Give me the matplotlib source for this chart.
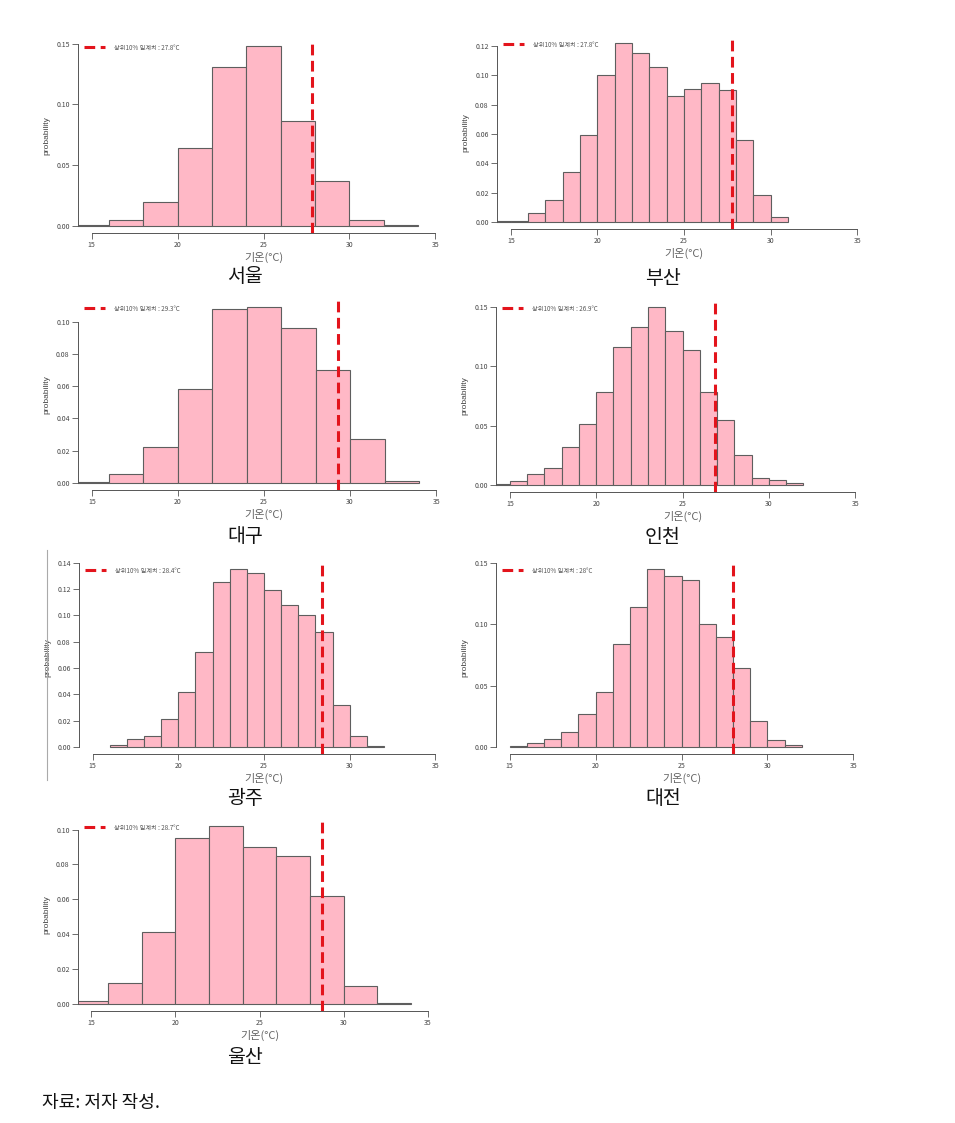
import matplotlib
matplotlib.use('Agg')
import matplotlib.pyplot as plt
from matplotlib.lines import Line2D
import numpy as np


plt.rcParams['font.family'] = ['Noto Sans CJK KR', 'DejaVu Sans']


# ============================================================================
# Data
# ============================================================================
cities = ['서울', '부산', '대구', '인천', '광주', '대전', '울산']

seoul_start, seoul_width = 14, 2
seoul_density = [0.001, 0.005, 0.020, 0.064, 0.131, 0.148, 0.086, 0.037, 0.005, 0.0005]
seoul_threshold = 27.8

busan_start, busan_width = 14, 1
busan_density = [0.0003, 0.0005, 0.006, 0.015, 0.034, 0.059, 0.100, 0.122, 0.115, 0.106,
                 0.086, 0.091, 0.095, 0.090, 0.056, 0.018, 0.0035]
busan_threshold = 27.8

daegu_start, daegu_width = 14, 2
daegu_density = [0.0003, 0.0055, 0.022, 0.058, 0.108, 0.109, 0.096, 0.070, 0.027, 0.0015]
daegu_threshold = 29.3

incheon_start, incheon_width = 14, 1
incheon_density = [0.001, 0.003, 0.009, 0.014, 0.032, 0.051, 0.078, 0.116, 0.133, 0.150,
                   0.130, 0.114, 0.078, 0.055, 0.025, 0.006, 0.004, 0.0015]
incheon_threshold = 26.9

gwangju_start, gwangju_width = 16, 1
gwangju_density = [0.0015, 0.006, 0.0085, 0.021, 0.042, 0.072, 0.125, 0.135, 0.132, 0.119,
                   0.108, 0.100, 0.087, 0.032, 0.0085, 0.001]
gwangju_threshold = 28.4

daejeon_start, daejeon_width = 15, 1
daejeon_density = [0.001, 0.0035, 0.0065, 0.012, 0.027, 0.045, 0.084, 0.114, 0.145, 0.139,
                   0.136, 0.100, 0.090, 0.064, 0.021, 0.006, 0.0015]
daejeon_threshold = 28

ulsan_start, ulsan_width = 14, 2
ulsan_density = [0.0015, 0.012, 0.041, 0.095, 0.102, 0.090, 0.085, 0.062, 0.0105, 0.0005]
ulsan_threshold = 28.7

seoul_yticks = [0.00, 0.05, 0.10, 0.15]
busan_yticks = [0.00, 0.02, 0.04, 0.06, 0.08, 0.10, 0.12]
daegu_yticks = [0.00, 0.02, 0.04, 0.06, 0.08, 0.10]
incheon_yticks = [0.00, 0.05, 0.10, 0.15]
gwangju_yticks = [0.00, 0.02, 0.04, 0.06, 0.08, 0.10, 0.12, 0.14]
daejeon_yticks = [0.00, 0.05, 0.10, 0.15]
ulsan_yticks = [0.00, 0.02, 0.04, 0.06, 0.08, 0.10]

x_ticks = [15, 20, 25, 30, 35]


# ============================================================================
# Layout (pixel boxes: left, top, right, bottom)
# ============================================================================
W, H = 955, 1123
panels = [
    (seoul_start, seoul_width, seoul_density, seoul_threshold, seoul_yticks, (78, 39, 449, 233), (245, 277)),
    (busan_start, busan_width, busan_density, busan_threshold, busan_yticks, (497, 36, 871, 229), (663, 278)),
    (daegu_start, daegu_width, daegu_density, daegu_threshold, daegu_yticks, (78, 300, 450, 490), (245, 537)),
    (incheon_start, incheon_width, incheon_density, incheon_threshold, incheon_yticks, (496, 300, 869, 492), (663, 537)),
    (gwangju_start, gwangju_width, gwangju_density, gwangju_threshold, gwangju_yticks, (79, 562, 449, 754), (245, 798)),
    (daejeon_start, daejeon_width, daejeon_density, daejeon_threshold, daejeon_yticks, (496, 562, 867, 754), (663, 798)),
    (ulsan_start, ulsan_width, ulsan_density, ulsan_threshold, ulsan_yticks, (78, 819, 441, 1011), (245, 1058)),
]

BAR_COLOR = '#FFB8C6'
EDGE_COLOR = '#5e5e5e'
LINE_COLOR = '#E3141C'
AXIS_COLOR = '#555555'


def fmt_threshold(t):
    if float(t).is_integer():
        return f'{int(t)}'
    return f'{t:.1f}'


fig = plt.figure(figsize=(W / 100, H / 100), dpi=100)

for name, (start, width, dens, thr, yticks, box, cap) in zip(cities, panels):
    l, t, r, b = box
    ax = fig.add_axes([l / W, 1 - b / H, (r - l) / W, (b - t) / H])

    dens = np.array(dens)
    edges = start + width * np.arange(len(dens))
    ax.bar(edges, dens, width=width, align='edge', color=BAR_COLOR,
           edgecolor=EDGE_COLOR, linewidth=0.8)

    ax.axvline(thr, color=LINE_COLOR, linestyle='--', linewidth=2.2, dashes=(3.5, 1.8),
               label=f'상위10% 임계치 : {fmt_threshold(thr)}°C')

    ymax = dens.max()
    ax.set_xlim(14.2, 35.8)
    ax.set_ylim(-0.04 * ymax, 1.04 * ymax)

    ax.set_xticks(x_ticks)
    ax.set_yticks(yticks)
    ax.set_yticklabels([f'{v:.2f}' for v in yticks])

    for side in ['top', 'right']:
        ax.spines[side].set_visible(False)
    for side in ['left', 'bottom']:
        ax.spines[side].set_color(AXIS_COLOR)
        ax.spines[side].set_linewidth(0.7)
    ax.spines['bottom'].set_bounds(15, 35)
    ax.spines['left'].set_bounds(0, yticks[-1])

    ax.tick_params(direction='out', length=4, width=0.6, color=AXIS_COLOR,
                   labelsize=5, labelcolor='#444444', pad=2)
    ax.tick_params(axis='x', pad=2)

    ax.set_xlabel('기온(°C)', fontsize=8, color='#666666', labelpad=1.5)
    ax.set_ylabel('probability', fontsize=6, color='#444444', labelpad=4,
                  family=['Liberation Sans', 'DejaVu Sans'])

    ax.legend(loc='upper left', bbox_to_anchor=(0.005, 1.0), frameon=False,
              fontsize=4.5, handlelength=3.4, handletextpad=1.4,
              borderaxespad=0.3, labelcolor='#555555')

    fig.text(cap[0] / W, 1 - cap[1] / H, name, fontsize=14, ha='center', va='center',
             color='#111111')

# thin frame line left of the 광주 panel
fig.add_artist(Line2D([47 / W, 47 / W], [1 - 550 / H, 1 - 780 / H], color='#aaaaaa', linewidth=0.8))

fig.text(42 / W, 1 - 1103 / H, '자료: 저자 작성.', fontsize=13, ha='left', va='center', color='#111111')

fig.savefig('out.png', dpi=100)
